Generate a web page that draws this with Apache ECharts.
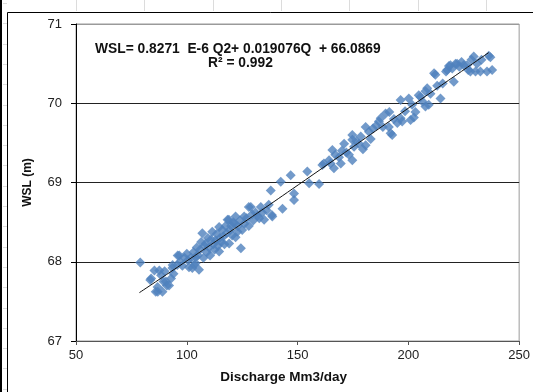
<!DOCTYPE html>
<html>
<head>
<meta charset="utf-8">
<script src="https://cdn.jsdelivr.net/npm/echarts@6/dist/echarts.min.js"></script>
<style>
html,body{margin:0;padding:0;background:#fff;}
#c{width:533px;height:392px;}
</style>
</head>
<body>
<div id="c"></div>
<script>
// Discharge (Mm3/day) values of the observed points
var dischargeQ = [
 79,83.5,83.9,85.4,86,86.8,86.9,87.6,88.4,89,89.5,90,90.6,91,92,92.9,93.5,93.6,94,95.7,95.9,96.6,97,98,99,100,
 100.5,101,101.9,102.5,103,103.4,104,104,104.5,105,105.5,106,106.5,107,107.5,108,108.6,109,109.5,110,110.5,111,111.5,112,112.5,113,113.5,114,114.6,114.6,115,115.5,116,116.5,117,117.5,118,118.4,119,119.1,119.5,120,120.5,121,121.4,122,122,122.9,123,124,124.4,125,125.9,126,127,128,128,128.9,129.5,130,131,132,132.7,133.4,134,134.9,136,137,137.9,138.4,138.6,
 142.4,143.2,146.9,148.4,148.4,154.4,155.2,159.7,161.2,161.9,164.2,164.9,165.7,166.4,
 167,168.7,169.5,170,171,172,173.2,174.7,174.7,174.7,175.5,176.5,177.7,178.5,179.5,180.7,180.7,182.2,183,184,
 185.5,186.7,187.5,188.5,189.7,191.2,191.4,192,192.7,193.5,195,196.5,196.5,197.2,198.5,200.2,201,201.7,202.5,203.2,204.7,205.5,206.5,207.7,207.7,208.5,209.2,210,211.6,212.2,213,214.5,215.5,217,217.5,218.3,219,219.8,220.5,221.3,222,223,224,225,226.5,227,228,228.5,229.5,230.3,231,232.5,233,235.5,236.3,237.8,237
];
// Water surface level (m) of the observed points
var wslValues = [
 67.99,67.77,67.79,67.89,67.62,67.68,67.62,67.89,67.83,67.62,67.75,67.88,67.75,67.70,67.70,67.79,67.92,67.96,67.85,67.96,68.08,68.08,68.00,67.95,68.05,68.10,
 68.02,67.93,68.05,67.92,68.12,67.96,67.98,68.06,68.18,68.08,67.90,68.15,68.25,68.36,68.05,68.20,68.23,68.12,68.30,68.18,68.08,68.28,68.38,68.22,68.15,68.27,68.35,68.20,68.44,68.13,68.30,68.25,68.40,68.32,68.22,68.45,68.36,68.53,68.53,68.23,68.40,68.45,68.33,68.50,68.48,68.57,68.31,68.38,68.45,68.52,68.17,68.40,68.57,68.48,68.55,68.69,68.45,68.69,68.60,68.52,68.62,68.58,68.55,68.69,68.62,68.53,68.65,68.72,68.90,68.59,68.57,
 69.01,68.67,69.09,68.86,68.78,69.14,68.99,68.98,69.22,69.24,69.28,69.24,69.41,69.18,
 69.35,69.32,69.24,69.40,69.49,69.38,69.35,69.60,69.54,69.28,69.45,69.52,69.49,69.58,69.42,69.70,69.47,69.64,69.55,69.68,
 69.72,69.77,69.81,69.70,69.87,69.70,69.89,69.62,69.60,69.80,69.75,69.81,70.04,69.77,69.90,70.06,69.79,69.98,69.82,69.89,70.10,70.08,70.02,70.15,69.96,70.19,69.98,70.12,70.38,70.36,70.22,70.06,70.25,70.40,70.42,70.47,70.48,70.44,70.27,70.50,70.50,70.46,70.52,70.48,70.48,70.42,70.40,70.55,70.59,70.40,70.50,70.40,70.55,70.40,70.60,70.42,70.58
];
// Fitted trend line points
var trendQ = [78.6,118,157,197,236.3];
var trendWSL = [67.61,68.35,69.10,69.88,70.64];
// Axis ticks
var xTicks = [50,100,150,200,250];
var yTicks = [67,68,69,70,71];
var equationText = 'WSL= 0.8271  E-6 Q2+ 0.019076Q  + 66.0869';
var r2Text = 'R² = 0.992';

var scatterData = dischargeQ.map(function(q,i){return [q, wslValues[i]];});
var trendData = trendQ.map(function(q,i){return [q, trendWSL[i]];});

var font = '"Liberation Sans", Arial, sans-serif';
var graphics = [];
// spreadsheet background lines
[76,144,213,281,349,418,486].forEach(function(x){
  graphics.push({type:'line',shape:{x1:x+0.5,y1:0,x2:x+0.5,y2:11},style:{stroke:'#dcdcdc',lineWidth:1},silent:true});
});
for (var yy=3; yy<392; yy+=20.3){
  graphics.push({type:'line',shape:{x1:3,y1:Math.round(yy)+0.5,x2:7,y2:Math.round(yy)+0.5},style:{stroke:'#dcdcdc',lineWidth:1},silent:true});
}
graphics.push({type:'line',shape:{x1:1,y1:0,x2:1,y2:392},style:{stroke:'#000',lineWidth:2},silent:true});
graphics.push({type:'polyline',shape:{points:[[7.5,392],[7.5,12.5],[533,12.5]]},style:{stroke:'#000',fill:null,lineWidth:1},silent:true});
graphics.push({type:'text',left:95,top:42,style:{text:equationText,font:'bold 13.8px '+font,fill:'#111'},z:10});
graphics.push({type:'text',left:208,top:56,style:{text:r2Text,font:'bold 13.8px '+font,fill:'#111'},z:10});

var chart = echarts.init(document.getElementById('c'), null, {renderer:'canvas'});
chart.setOption({
  animation:false,
  backgroundColor:'#fff',
  graphic: graphics,
  grid:{left:76,right:12,top:24,bottom:51,show:true,borderColor:'#9a9a9a',borderWidth:1,backgroundColor:'transparent'},
  xAxis:{
    type:'value',min:xTicks[0],max:xTicks[xTicks.length-1],interval:50,
    name:'Discharge Mm3/day',nameLocation:'middle',nameGap:29,
    nameTextStyle:{fontFamily:font,fontWeight:'bold',fontSize:13.5,color:'#111',padding:[0,28,0,0]},
    axisLine:{show:true,onZero:false,lineStyle:{color:'#555',width:1}},
    axisTick:{show:true,inside:false,length:4,lineStyle:{color:'#555'}},
    axisLabel:{fontFamily:font,fontSize:13,color:'#222',margin:8},
    splitLine:{show:false}
  },
  yAxis:{
    type:'value',min:yTicks[0],max:yTicks[yTicks.length-1],interval:1,
    name:'WSL (m)',nameLocation:'middle',nameGap:42,nameRotate:90,
    nameTextStyle:{fontFamily:font,fontWeight:'bold',fontSize:12,color:'#111'},
    axisLine:{show:true,onZero:false,lineStyle:{color:'#000',width:1}},
    axisTick:{show:true,inside:false,length:5,lineStyle:{color:'#000'}},
    axisLabel:{fontFamily:font,fontSize:13,color:'#222',margin:14},
    splitLine:{show:true,lineStyle:{color:['#777','#222','#222','#222','#9a9a9a'],width:1}}
  },
  series:[
    {type:'scatter',data:scatterData,symbol:'diamond',symbolSize:10,
     itemStyle:{color:'#4F81BD'},z:2},
    {type:'line',data:trendData,smooth:true,showSymbol:false,symbol:'none',
     lineStyle:{color:'#111',width:1},z:3}
  ]
});
</script>
</body>
</html>
